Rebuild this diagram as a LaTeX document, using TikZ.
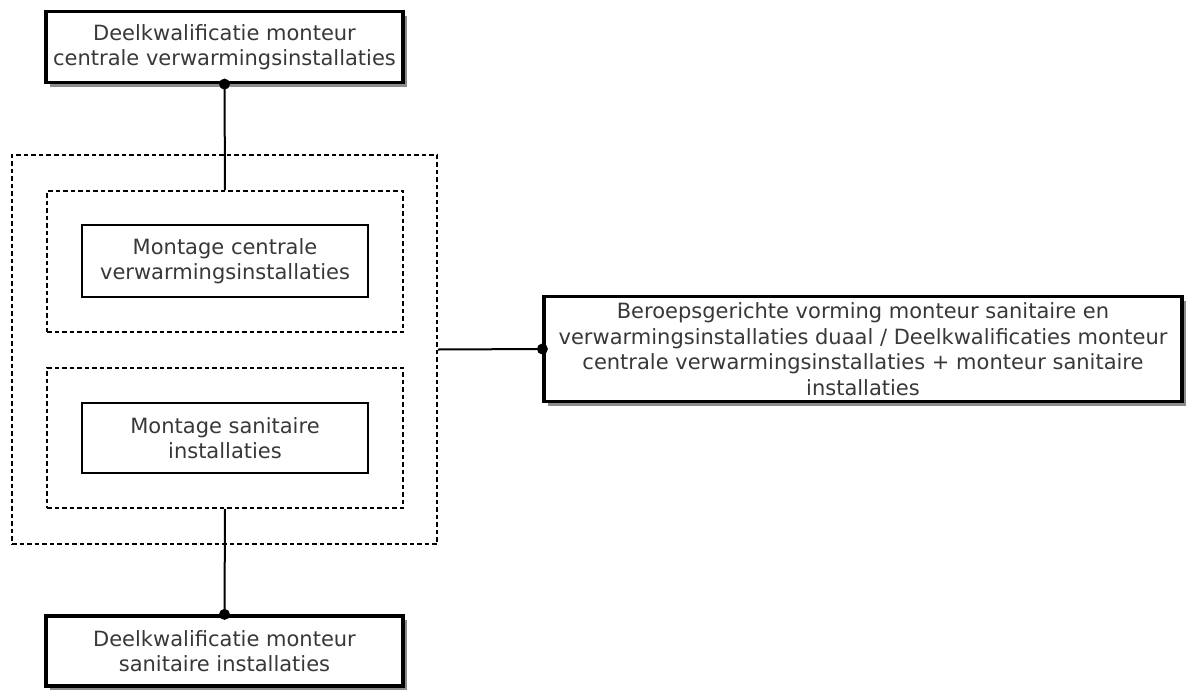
\documentclass[tikz,border=0pt]{standalone}
\usepackage{fontspec}
\setmainfont{DejaVu Sans}
\usetikzlibrary{shadows}

\begin{document}
\begin{tikzpicture}[x=1pt, y=-1pt]
\tikzstyle{every node}=[align=center, text=black!78, inner sep=0pt,
  font=\fontsize{21}{25.5}\selectfont];
\tikzstyle{kwal}=[draw, line width=3.2pt, fill=white,
  drop shadow={shadow xshift=4pt, shadow yshift=-4pt, fill=black!45, opacity=1}];
\tikzstyle{module}=[draw, line width=1.8pt];
\tikzstyle{groep}=[draw, line width=1.7pt, dash pattern=on 4.5pt off 3pt];
\tikzstyle{link}=[line width=2pt];
\useasboundingbox (0,0) rectangle (1192,689);
% dashed groups
\node [groep, minimum width=425pt, minimum height=389pt] (grp) at (224.5,349.5) {};
\node [groep, minimum width=356pt, minimum height=141pt] (grpcv) at (225,261.5) {};
\node [groep, minimum width=356pt, minimum height=140pt] (grpsan) at (225,438) {};
% modules
\node [module, minimum width=286pt, minimum height=72pt] (mcv) at (225,261) {Montage centrale\\verwarmingsinstallaties};
\node [module, minimum width=286pt, minimum height=70pt] (msan) at (225,438) {Montage sanitaire\\installaties};
% qualifications
\node [kwal, minimum width=357pt, minimum height=71pt] (dkcv) at (224.5,47) {Deelkwalificatie monteur\\centrale verwarmingsinstallaties};
\node [kwal, minimum width=357pt, minimum height=70pt] (dksan) at (224.5,651) {Deelkwalificatie monteur\\sanitaire installaties};
\node [kwal, minimum width=638pt, minimum height=105pt] (bv) at (863,349) {Beroepsgerichte vorming monteur sanitaire en\\verwarmingsinstallaties duaal / Deelkwalificaties monteur\\centrale verwarmingsinstallaties + monteur sanitaire\\installaties};
\draw [link] (dkcv.south) -- (grpcv.north) % connectors
  (grpsan.south) -- (dksan.north)
  (grp.east) -- (bv.west);
\fill (dkcv.south) circle (5.5);
\fill (dksan.north) circle (5.5);
\fill (bv.west) circle (5.5);
\end{tikzpicture}
\end{document}
